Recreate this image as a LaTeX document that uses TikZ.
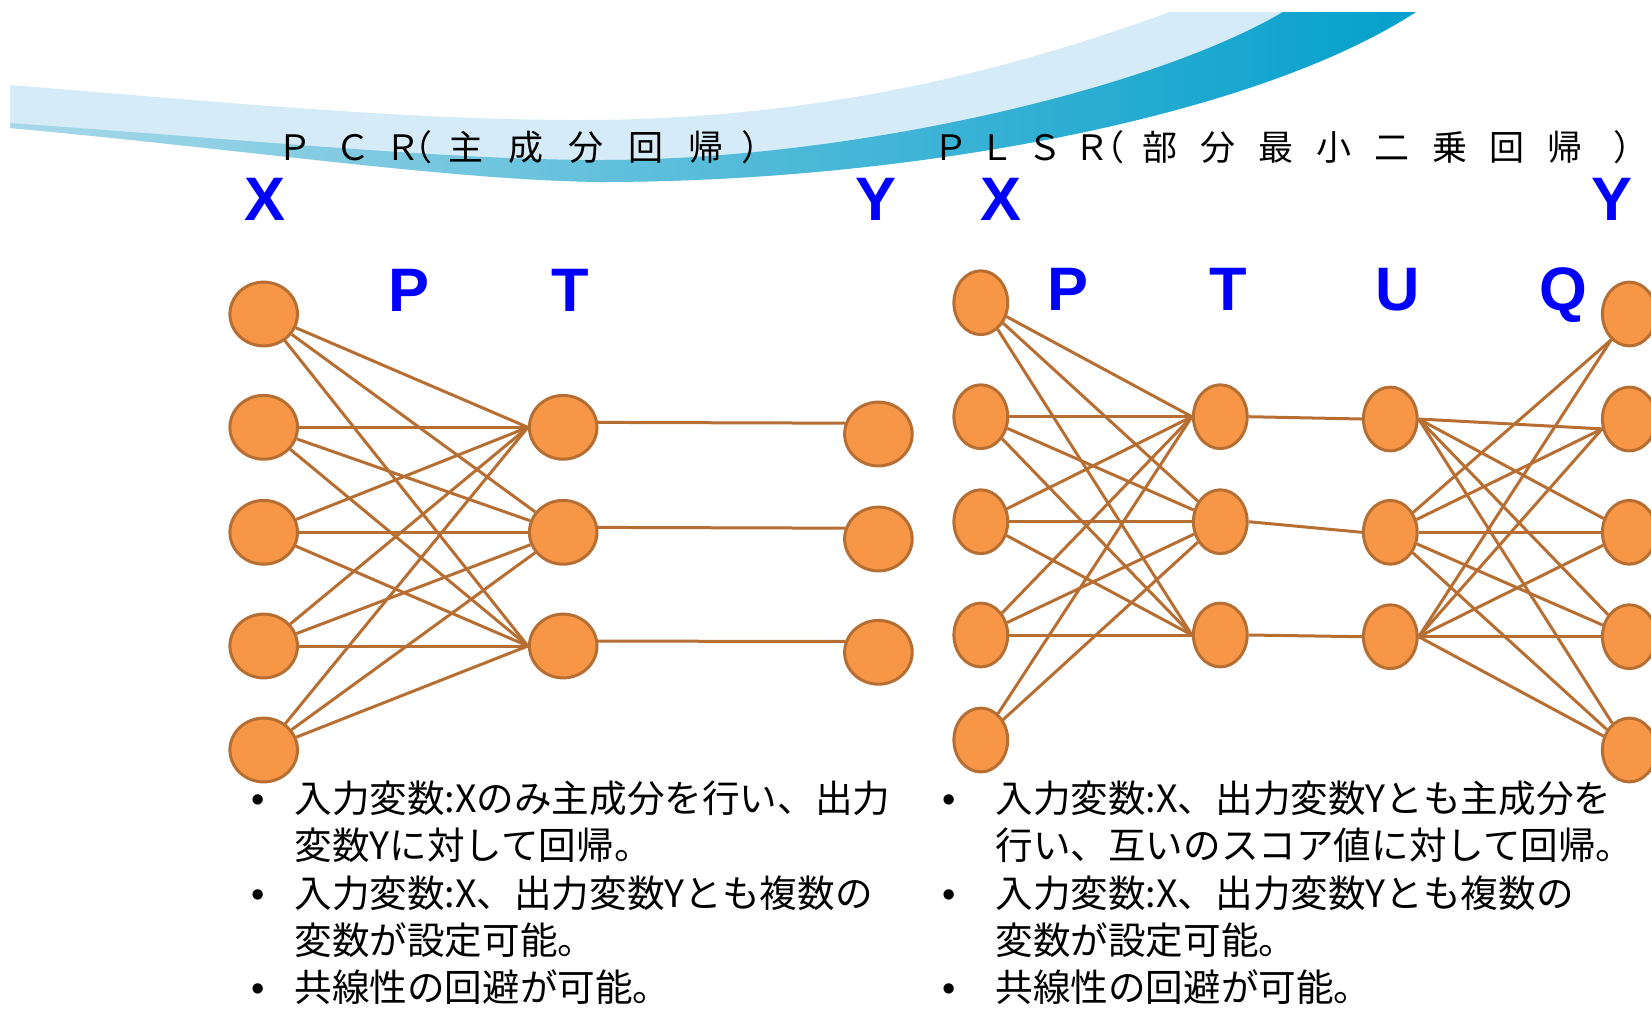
\documentclass[tikz,border=0pt]{standalone}
\usepackage{fontspec}
\setmainfont{Liberation Sans}
\newfontfamily\jpfont{Noto Sans CJK JP}
\usetikzlibrary{shapes.geometric}
\definecolor{nodefill}{RGB}{247,150,70}
\definecolor{nodeline}{RGB}{182,110,50}
\definecolor{edgecol}{RGB}{182,110,50}
\definecolor{lblblue}{RGB}{0,0,255}
\definecolor{bandlight}{RGB}{213,235,248}
\definecolor{bandA}{RGB}{168,216,232}
\definecolor{bandB}{RGB}{138,201,224}
\definecolor{bandC}{RGB}{4,160,204}
\pgfdeclarelayer{back}
\pgfdeclarelayer{edges}
\pgfsetlayers{back,edges,main}
\tikzset{
  bignode/.style={ellipse, draw=nodeline, fill=nodefill, line width=1.5pt, inner sep=0pt, minimum width=33.8pt, minimum height=31.9pt},
  smallnode/.style={bignode, minimum width=26.9pt},
  link/.style={draw=edgecol, line width=1.5pt},
  varlabel/.style={text=lblblue, font=\fontsize{30.7pt}{31pt}\selectfont\bfseries, inner sep=0pt, anchor=base},
  titletext/.style={font=\jpfont\fontsize{17.5pt}{18pt}\selectfont, inner sep=0pt, anchor=base west},
  bodytext/.style={font=\jpfont\fontsize{18.8pt}{19pt}\selectfont, inner sep=0pt, anchor=base west},
  bullettext/.style={font=\fontsize{19pt}{19pt}\selectfont, inner sep=0pt, anchor=base},
}
\newcommand\tc[2]{\makebox[0pt]{#1}\hspace{#2}}
\begin{document}
\begin{tikzpicture}[x=0.5pt,y=-0.5pt]
\useasboundingbox (0,0) rectangle (1651,1008);
\clip (0,0) rectangle (1651,1008);

% decorative band
\begin{pgfonlayer}{back}
\fill[bandlight] (10,85) .. controls (200,100) and (400,120) .. (580,120)
  .. controls (850,120) and (1050,55) .. (1170,12) -- (1416,12)
  .. controls (1250,120) and (900,182) .. (600,182)
  .. controls (450,180) and (250,150) .. (10,128) -- cycle;
\shade[left color=bandA, middle color=bandB, right color=bandC]
  (10,123) .. controls (250,140) and (450,160) .. (600,160)
  .. controls (850,160) and (1150,90) .. (1283,12) -- (1416,12)
  .. controls (1250,120) and (900,182) .. (600,182)
  .. controls (450,180) and (250,150) .. (10,128) -- cycle;
\end{pgfonlayer}

% titles
\node[titletext] (titleL) at (295,160) {\tc{Ｐ}{29pt}\tc{Ｃ}{25pt}\tc{Ｒ}{6pt}\tc{（}{25.5pt}\tc{主}{30pt}\tc{成}{30pt}\tc{分}{30pt}\tc{回}{30pt}\tc{帰}{26.5pt}\makebox[0pt]{）}};
\node[titletext] (titleR) at (951,160) {\tc{Ｐ}{23pt}\tc{Ｌ}{24pt}\tc{Ｓ}{23.5pt}\tc{Ｒ}{7.5pt}\tc{（}{26.5pt}\tc{部}{29pt}\tc{分}{29pt}\tc{最}{29pt}\tc{小}{29pt}\tc{二}{29pt}\tc{乗}{28.5pt}\tc{回}{29pt}\tc{帰}{33pt}\makebox[0pt]{）}};

% variable labels
\node[varlabel] (xL) at (265,220) {X};
\node[varlabel] (yL) at (876,220) {Y};
\node[varlabel] (xR) at (1001,220) {X};
\node[varlabel] (yR) at (1612,220) {Y};
\node[varlabel] (pL) at (409,311) {P};
\node[varlabel] (tL) at (570.6,311) {T};
\node[varlabel] (pR) at (1068,310) {P};
\node[varlabel] (tR) at (1228.5,310) {T};
\node[varlabel] (uR) at (1398,310) {U};
\node[varlabel] (qR) at (1563,310) {Q};

% left network nodes
\foreach \i/\y in {1/314,2/427.3,3/532.3,4/646,5/750}
  \node[bignode] (LX\i) at (263.7,\y) {};
\foreach \i/\y in {1/427.3,2/532.3,3/646}
  \node[bignode] (LT\i) at (563.2,\y) {};
\foreach \i/\y in {1/434,2/539,3/652.3}
  \node[bignode] (LY\i) at (878.4,\y) {};

% right network nodes
\foreach \i/\y in {1/302.7,2/416.7,3/521.7,4/635,5/740}
  \node[smallnode] (RX\i) at (980.8,\y) {};
\foreach \i/\y in {1/416.7,2/521.7,3/635}
  \node[smallnode] (RT\i) at (1220.3,\y) {};
\foreach \i/\y in {1/419,2/532.3,3/636.7}
  \node[smallnode] (RU\i) at (1390.3,\y) {};
\foreach \i/\y in {1/314,2/419,3/532.3,4/636.7,5/750}
  \node[smallnode] (RQ\i) at (1629.3,\y) {};

% connectors
\begin{pgfonlayer}{edges}
\foreach \i in {1,...,5}
  \foreach \t in {LT1.west,LT2,LT3.west}
    \draw[link] (LX\i) -- (\t);
\foreach \j in {1,2,3}
  \draw[link] (LT\j.8) -- (LY\j.162);
\foreach \i in {1,...,4}
  \foreach \t in {RT1.west,RT2,RT3.west}
    \draw[link] (RX\i) -- (\t);
\foreach \t in {RT1.west,RT2}
  \draw[link] (RX5) -- (\t);
\foreach \j in {1,2,3}
  \draw[link] (RT\j.east) -- (RU\j.west);
\foreach \q in {RQ2.200,RQ3,RQ4,RQ5}
  \draw[link] (RU1.east) -- (\q);
\foreach \s in {RU2,RU3.east}
  \foreach \q in {RQ1.235,RQ2.200,RQ3,RQ4,RQ5}
    \draw[link] (\s) -- (\q);
\end{pgfonlayer}

% left text
\node[bullettext] (lb1) at (258,812.4) {•};
\node[bodytext] (ll1) at (294,812.4) {入力変数:Xのみ主成分を行い、出力};
\node[bodytext] (ll2) at (294,859.5) {変数Yに対して回帰。};
\node[bullettext] (lb2) at (258,907) {•};
\node[bodytext] (ll3) at (294,907) {入力変数:X、出力変数Yとも複数の};
\node[bodytext] (ll4) at (294,954) {変数が設定可能。};
\node[bullettext] (lb3) at (258,1001.5) {•};
\node[bodytext] (ll5) at (294,1001.5) {共線性の回避が可能。};

% right text
\node[bullettext] (rb1) at (949,812.4) {•};
\node[bodytext] (rl1) at (995,812.4) {入力変数:X、出力変数Yとも主成分を};
\node[bodytext] (rl2) at (995,859.5) {行い、互いのスコア値に対して回帰。};
\node[bullettext] (rb2) at (949,907) {•};
\node[bodytext] (rl3) at (995,907) {入力変数:X、出力変数Yとも複数の};
\node[bodytext] (rl4) at (995,954) {変数が設定可能。};
\node[bullettext] (rb3) at (949,1001.5) {•};
\node[bodytext] (rl5) at (995,1001.5) {共線性の回避が可能。};
\end{tikzpicture}
\end{document}
